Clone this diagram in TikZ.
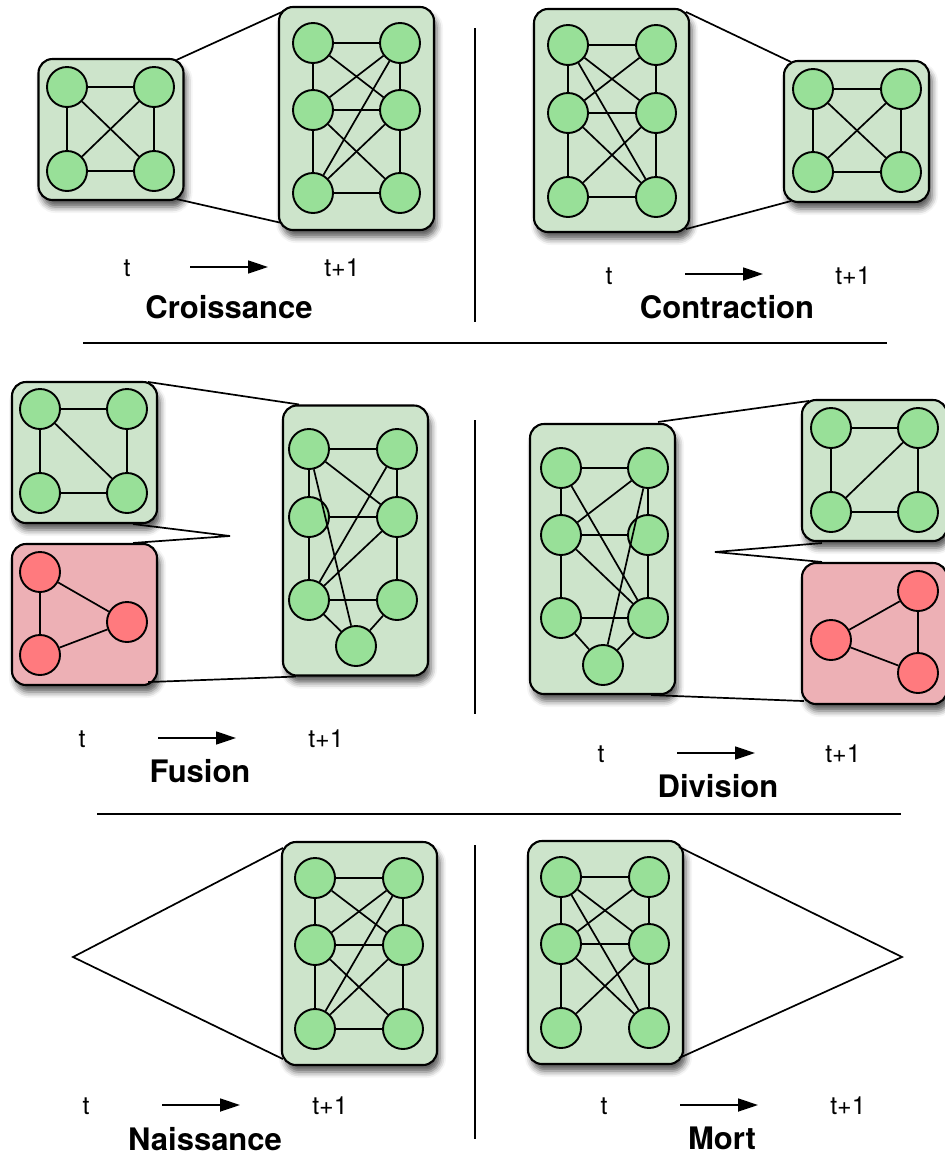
\documentclass[tikz,border=0pt]{standalone}
\usepackage{fontspec}
\setmainfont{TeX Gyre Heros}
\usetikzlibrary{calc,arrows.meta,shadows.blur}
\definecolor{boxgreen}{RGB}{205,228,203}
\definecolor{nodegreen}{RGB}{152,224,152}
\definecolor{boxred}{RGB}{237,176,181}
\definecolor{nodered}{RGB}{255,122,126}
\begin{document}
\begin{tikzpicture}[x=1pt,y=1pt,line width=1.7pt,
    gbox/.style={draw, line width=2.1pt, fill=boxgreen, rounded corners=14pt, inner sep=0pt,
      blur shadow={shadow xshift=3pt, shadow yshift=-7pt, shadow blur radius=6pt, shadow opacity=65}},
    rbox/.style={gbox, fill=boxred},
    sqbox/.style={minimum width=145pt, minimum height=141pt},
    sixbox/.style={minimum width=155pt, minimum height=223pt},
    sevbox/.style={minimum width=145pt, minimum height=270pt},
    gv/.style={circle, draw, line width=1.9pt, fill=nodegreen, minimum size=40pt, inner sep=0pt},
    rv/.style={gv, fill=nodered},
    lbl/.style={anchor=base, font=\fontsize{25}{29}\selectfont},
    ttl/.style={anchor=base, font=\bfseries\fontsize{31}{36}\selectfont},
    arr/.style={-{Triangle[length=20pt,width=13pt]}}]
    \useasboundingbox (0,0) rectangle (945,-1157);
    % separators
    \draw (475,-28) -- (475,-322);
    \draw (475,-420) -- (475,-714);
    \draw (475,-845) -- (475,-1139);
    \draw (83,-343) -- (887,-343);
    \draw (97,-814) -- (901,-814);
    % Croissance
    \node [gbox, sqbox] (c0) at (111,-129.5) {};
    \node [gbox, sixbox] (c1) at (356.5,-118.5) {};
    \node [gv] (c0tl) at (67,-87) {};
    \node [gv] (c0tr) at (154,-87) {};
    \node [gv] (c0bl) at (67,-171) {};
    \node [gv] (c0br) at (154,-171) {};
    \node [gv] (c1tl) at (313,-43) {};
    \node [gv] (c1tr) at (400,-43) {};
    \node [gv] (c1ml) at (313,-110) {};
    \node [gv] (c1mr) at (400,-110) {};
    \node [gv] (c1bl) at (313,-193) {};
    \node [gv] (c1br) at (400,-193) {};
    \draw (c0tl) -- (c0tr);
    \draw (c0tl) -- (c0bl);
    \draw (c0tr) -- (c0br);
    \draw (c0bl) -- (c0br);
    \draw (c0tl) -- (c0br);
    \draw (c0tr) -- (c0bl);
    \draw (c1tl) -- (c1tr);
    \draw (c1tl) -- (c1ml);
    \draw (c1tr) -- (c1mr);
    \draw (c1ml) -- (c1mr);
    \draw (c1ml) -- (c1bl);
    \draw (c1mr) -- (c1br);
    \draw (c1bl) -- (c1br);
    \draw (c1tl) -- (c1mr);
    \draw (c1tr) -- (c1ml);
    \draw (c1tr) -- (c1bl);
    \draw (c1ml) -- (c1br);
    \draw (c1mr) -- (c1bl);
    \draw ($(c0.north east)+(-8,-2)$) -- ($(c1.north west)+(4,-6)$);
    \draw ($(c0.south east)+(-8,2)$) -- ($(c1.south west)+(4,8)$);
    \node [lbl] (tc0) at (127,-276) {t};
    \node [lbl] (tc1) at (342,-276) {t+1};
    \coordinate (ac0) at (190,-267);
    \coordinate (ac1) at (268,-267);
    \draw [arr] (ac0) -- (ac1);
    \node [ttl] (ttlc) at (229,-318) {Croissance};
    % Contraction
    \node [gbox, sixbox] (k0) at (611.5,-120.5) {};
    \node [gbox, sqbox] (k1) at (856.5,-131.5) {};
    \node [gv] (k0tl) at (568,-45) {};
    \node [gv] (k0tr) at (656,-45) {};
    \node [gv] (k0ml) at (568,-113) {};
    \node [gv] (k0mr) at (656,-113) {};
    \node [gv] (k0bl) at (568,-197) {};
    \node [gv] (k0br) at (656,-197) {};
    \node [gv] (k1tl) at (813,-89) {};
    \node [gv] (k1tr) at (901,-89) {};
    \node [gv] (k1bl) at (813,-172) {};
    \node [gv] (k1br) at (901,-172) {};
    \draw (k0tl) -- (k0tr);
    \draw (k0tl) -- (k0ml);
    \draw (k0tr) -- (k0mr);
    \draw (k0ml) -- (k0mr);
    \draw (k0ml) -- (k0bl);
    \draw (k0mr) -- (k0br);
    \draw (k0bl) -- (k0br);
    \draw (k0tl) -- (k0mr);
    \draw (k0tl) -- (k0br);
    \draw (k0tr) -- (k0ml);
    \draw (k0ml) -- (k0br);
    \draw (k0mr) -- (k0bl);
    \draw (k1tl) -- (k1tr);
    \draw (k1tl) -- (k1bl);
    \draw (k1tr) -- (k1br);
    \draw (k1bl) -- (k1br);
    \draw (k1tl) -- (k1br);
    \draw (k1tr) -- (k1bl);
    \draw ($(k0.north east)+(-4,-4)$) -- ($(k1.north west)+(8,-2)$);
    \draw ($(k0.south east)+(-4,4)$) -- ($(k1.south west)+(8,2)$);
    \node [lbl] (tk0) at (609,-284) {t};
    \node [lbl] (tk1) at (853,-284) {t+1};
    \coordinate (ak0) at (685,-274);
    \coordinate (ak1) at (763,-274);
    \draw [arr] (ak0) -- (ak1);
    \node [ttl] (ttlk) at (727,-318) {Contraction};
    % Fusion
    \node [gbox, sqbox] (f0) at (84.5,-452.5) {};
    \node [rbox, sqbox] (fr) at (84.5,-614.5) {};
    \node [gbox, sevbox] (f1) at (355.5,-540.5) {};
    \node [gv] (f0tl) at (40,-409) {};
    \node [gv] (f0tr) at (127,-409) {};
    \node [gv] (f0bl) at (40,-493) {};
    \node [gv] (f0br) at (127,-493) {};
    \node [rv] (fra) at (40,-572) {};
    \node [rv] (frb) at (127,-622) {};
    \node [rv] (frc) at (40,-655) {};
    \node [gv] (f1tl) at (309,-449) {};
    \node [gv] (f1tr) at (397,-449) {};
    \node [gv] (f1ml) at (309,-517) {};
    \node [gv] (f1mr) at (397,-517) {};
    \node [gv] (f1bl) at (309,-600) {};
    \node [gv] (f1br) at (397,-600) {};
    \node [gv] (f1b) at (356,-646) {};
    \draw (f0tl) -- (f0tr);
    \draw (f0tl) -- (f0bl);
    \draw (f0tr) -- (f0br);
    \draw (f0bl) -- (f0br);
    \draw (f0tl) -- (f0br);
    \draw (fra) -- (frb);
    \draw (frb) -- (frc);
    \draw (frc) -- (fra);
    \draw (f1tl) -- (f1tr);
    \draw (f1tl) -- (f1ml);
    \draw (f1tr) -- (f1mr);
    \draw (f1ml) -- (f1mr);
    \draw (f1ml) -- (f1bl);
    \draw (f1mr) -- (f1br);
    \draw (f1bl) -- (f1br);
    \draw (f1bl) -- (f1b);
    \draw (f1br) -- (f1b);
    \draw (f1tl) -- (f1mr);
    \draw (f1tr) -- (f1bl);
    \draw (f1mr) -- (f1bl);
    \draw (f1tl) -- (f1b);
    \coordinate (fp) at (230,-536);
    \draw ($(f0.north east)+(-10,-1)$) -- ($(f1.north west)+(17,0)$);
    \draw ($(f0.south east)+(-25,0)$) -- (fp) -- ($(fr.north east)+(-25,0)$);
    \draw ($(fr.south east)+(-10,4)$) -- ($(f1.south west)+(14,0)$);
    \node [lbl] (tf0) at (82,-747) {t};
    \node [lbl] (tf1) at (326,-747) {t+1};
    \coordinate (af0) at (158,-738);
    \coordinate (af1) at (236,-738);
    \draw [arr] (af0) -- (af1);
    \node [ttl] (ttlf) at (200,-782) {Fusion};
    % Division
    \node [gbox, sevbox] (d0) at (602.5,-559) {};
    \node [gbox, sqbox] (d1) at (874.5,-470.5) {};
    \node [rbox, sqbox] (dr) at (874.5,-633.5) {};
    \node [gv] (d0tl) at (561,-468) {};
    \node [gv] (d0tr) at (648,-468) {};
    \node [gv] (d0ml) at (561,-535) {};
    \node [gv] (d0mr) at (648,-535) {};
    \node [gv] (d0bl) at (561,-618) {};
    \node [gv] (d0br) at (648,-618) {};
    \node [gv] (d0b) at (603,-665) {};
    \node [gv] (d1tl) at (831,-428) {};
    \node [gv] (d1tr) at (918,-428) {};
    \node [gv] (d1bl) at (831,-512) {};
    \node [gv] (d1br) at (918,-512) {};
    \node [rv] (dra) at (918,-591) {};
    \node [rv] (drb) at (831,-640) {};
    \node [rv] (drc) at (918,-673) {};
    \draw (d0tl) -- (d0tr);
    \draw (d0tl) -- (d0ml);
    \draw (d0tr) -- (d0mr);
    \draw (d0ml) -- (d0mr);
    \draw (d0ml) -- (d0bl);
    \draw (d0mr) -- (d0br);
    \draw (d0bl) -- (d0br);
    \draw (d0bl) -- (d0b);
    \draw (d0br) -- (d0b);
    \draw (d0tr) -- (d0ml);
    \draw (d0tl) -- (d0br);
    \draw (d0ml) -- (d0br);
    \draw (d0tr) -- (d0b);
    \draw (d1tl) -- (d1tr);
    \draw (d1tl) -- (d1bl);
    \draw (d1tr) -- (d1br);
    \draw (d1bl) -- (d1br);
    \draw (d1tr) -- (d1bl);
    \draw (dra) -- (drb);
    \draw (drb) -- (drc);
    \draw (drc) -- (dra);
    \coordinate (dp) at (715,-552);
    \draw ($(d0.north east)+(-18,1)$) -- ($(d1.north west)+(8,-2)$);
    \draw ($(d1.south west)+(21,-1)$) -- (dp) -- ($(dr.north west)+(21,0)$);
    \draw ($(d0.south east)+(-25,0)$) -- ($(dr.south west)+(3,4)$);
    \node [lbl] (td0) at (601,-762) {t};
    \node [lbl] (td1) at (843,-762) {t+1};
    \coordinate (ad0) at (677,-753);
    \coordinate (ad1) at (755,-753);
    \draw [arr] (ad0) -- (ad1);
    \node [ttl] (ttld) at (718,-797) {Division};
    % Naissance
    \node [gbox, sixbox] (n1) at (359.5,-953.5) {};
    \node [gv] (n1tl) at (315,-878) {};
    \node [gv] (n1tr) at (403,-878) {};
    \node [gv] (n1ml) at (315,-945) {};
    \node [gv] (n1mr) at (403,-945) {};
    \node [gv] (n1bl) at (315,-1029) {};
    \node [gv] (n1br) at (403,-1029) {};
    \draw (n1tl) -- (n1tr);
    \draw (n1tl) -- (n1ml);
    \draw (n1tr) -- (n1mr);
    \draw (n1ml) -- (n1mr);
    \draw (n1ml) -- (n1bl);
    \draw (n1mr) -- (n1br);
    \draw (n1bl) -- (n1br);
    \draw (n1tl) -- (n1mr);
    \draw (n1tr) -- (n1ml);
    \draw (n1tr) -- (n1bl);
    \draw (n1ml) -- (n1br);
    \draw (n1mr) -- (n1bl);
    \coordinate (np) at (73,-957);
    \draw ($(n1.north west)+(2,-7)$) -- (np) -- ($(n1.south west)+(2,7)$);
    \node [lbl] (tn0) at (86,-1114) {t};
    \node [lbl] (tn1) at (330,-1114) {t+1};
    \coordinate (an0) at (162,-1105);
    \coordinate (an1) at (240,-1105);
    \draw [arr] (an0) -- (an1);
    \node [ttl] (ttln) at (205,-1150) {Naissance};
    % Mort
    \node [gbox, sixbox] (m0) at (605.5,-952.5) {};
    \node [gv] (m0tl) at (561,-877) {};
    \node [gv] (m0tr) at (649,-877) {};
    \node [gv] (m0ml) at (561,-944) {};
    \node [gv] (m0mr) at (649,-944) {};
    \node [gv] (m0bl) at (561,-1028) {};
    \node [gv] (m0br) at (649,-1028) {};
    \draw (m0tl) -- (m0tr);
    \draw (m0tl) -- (m0ml);
    \draw (m0tr) -- (m0mr);
    \draw (m0ml) -- (m0mr);
    \draw (m0ml) -- (m0bl);
    \draw (m0mr) -- (m0br);
    \draw (m0tl) -- (m0mr);
    \draw (m0tl) -- (m0br);
    \draw (m0tr) -- (m0ml);
    \draw (m0ml) -- (m0br);
    \draw (m0mr) -- (m0bl);
    \coordinate (mp) at (902,-957);
    \draw ($(m0.north east)+(-5,-7)$) -- (mp) -- ($(m0.south east)+(-5,7)$);
    \node [lbl] (tm0) at (604,-1114) {t};
    \node [lbl] (tm1) at (848,-1114) {t+1};
    \coordinate (am0) at (680,-1105);
    \coordinate (am1) at (758,-1105);
    \draw [arr] (am0) -- (am1);
    \node [ttl] (ttlm) at (722,-1149) {Mort};
\end{tikzpicture}
\end{document}
